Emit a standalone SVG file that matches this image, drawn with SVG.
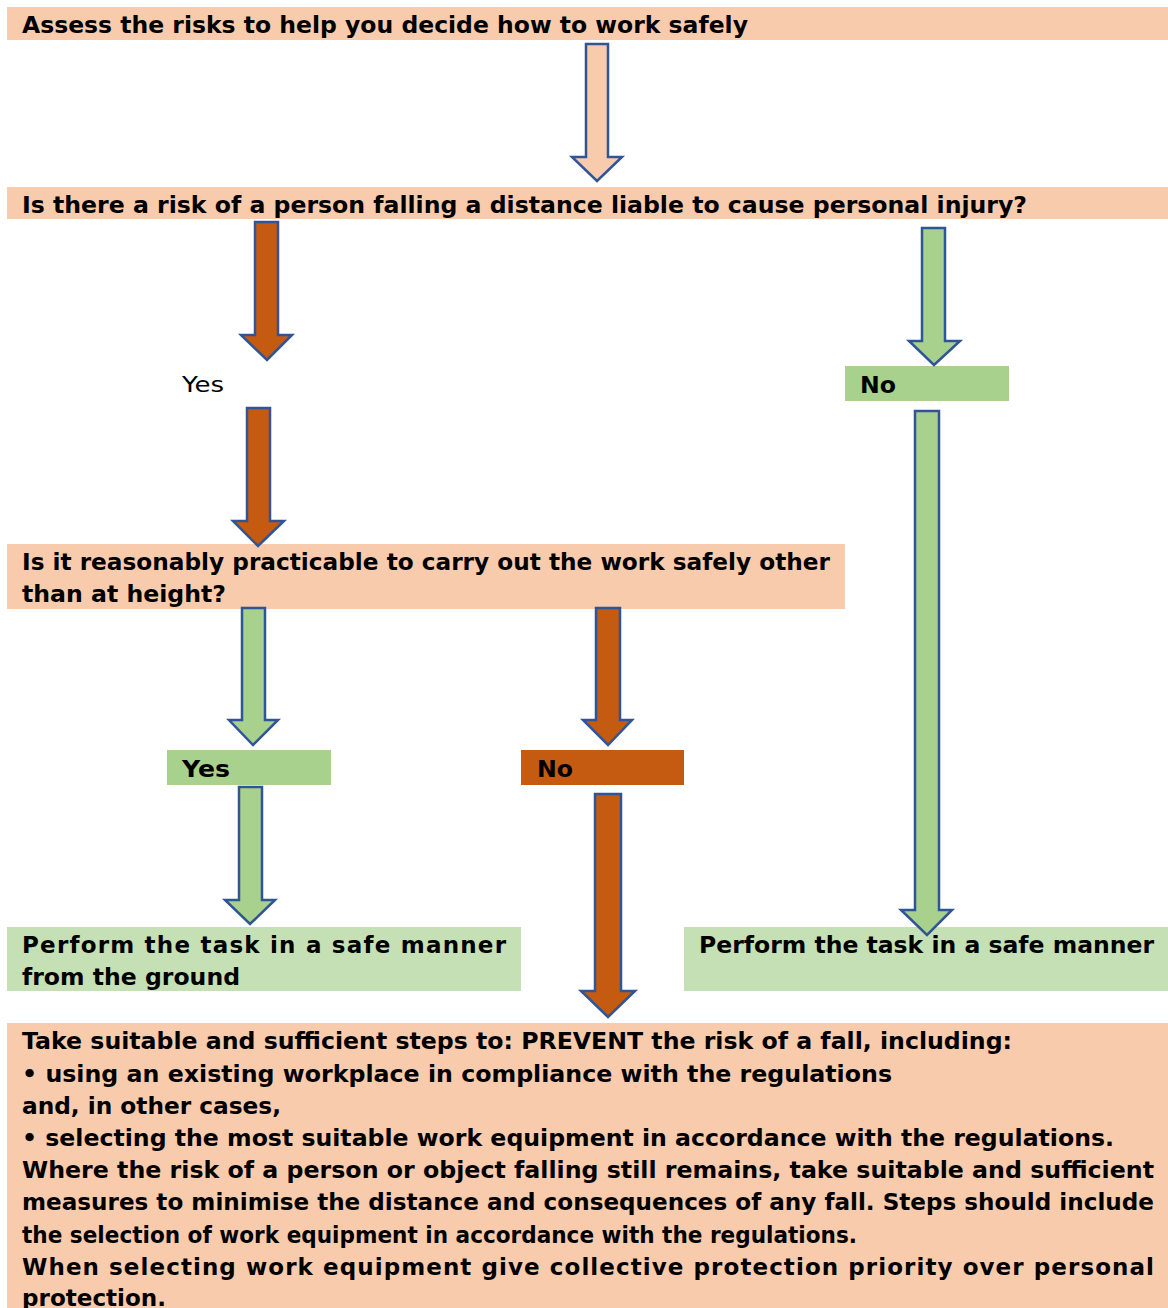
<svg xmlns="http://www.w3.org/2000/svg" width="1168" height="1308" viewBox="0 0 1168 1308">
<style>
.peach{fill:#F8CBAD}
.green{fill:#A9D18E}
.lgreen{fill:#C5E0B4}
.orange{fill:#C55A11}
.t{font-family:"DejaVu Sans","Liberation Sans",sans-serif;font-weight:bold;font-size:23px;fill:#000}
.n{font-family:"DejaVu Sans","Liberation Sans",sans-serif;font-size:22px;fill:#000}
.arr{stroke:#2F5597;stroke-width:2.5;stroke-linejoin:miter}
</style>
<rect width="1168" height="1308" fill="#fff"/>
<g id="n1">
<rect class="peach" x="7" y="7" width="1161" height="33"/>
<text class="t" x="22" y="33" textLength="726" lengthAdjust="spacingAndGlyphs">Assess the risks to help you decide how to work safely</text>
</g>
<g id="n2">
<rect class="peach" x="7" y="187" width="1161" height="32"/>
<text class="t" x="22" y="213" textLength="1005" lengthAdjust="spacingAndGlyphs">Is there a risk of a person falling a distance liable to cause personal injury?</text>
</g>
<g id="yes1">
<text class="n" x="182" y="392" textLength="42" lengthAdjust="spacingAndGlyphs">Yes</text>
</g>
<g id="no1">
<rect class="green" x="845" y="366" width="164" height="35"/>
<text class="t" x="860" y="393" textLength="36" lengthAdjust="spacingAndGlyphs">No</text>
</g>
<g id="n3">
<rect class="peach" x="7" y="544" width="838" height="65"/>
<text class="t" x="22" y="570" textLength="808" lengthAdjust="spacingAndGlyphs">Is it reasonably practicable to carry out the work safely other</text>
<text class="t" x="22" y="602" textLength="204" lengthAdjust="spacingAndGlyphs">than at height?</text>
</g>
<g id="yes2">
<rect class="green" x="167" y="750" width="164" height="35"/>
<text class="t" x="182" y="777" textLength="48" lengthAdjust="spacingAndGlyphs">Yes</text>
</g>
<g id="no2">
<rect class="orange" x="521" y="750" width="163" height="35"/>
<text class="t" x="537" y="777" textLength="36" lengthAdjust="spacingAndGlyphs">No</text>
</g>
<g id="ground">
<rect class="lgreen" x="7" y="927" width="514" height="64"/>
<text class="t" x="22" y="953" textLength="484" lengthAdjust="spacing">Perform the task in a safe manner</text>
<text class="t" x="22" y="985" textLength="218" lengthAdjust="spacingAndGlyphs">from the ground</text>
</g>
<g id="safe">
<rect class="lgreen" x="684" y="927" width="484" height="64"/>
<text class="t" x="699" y="953" textLength="455" lengthAdjust="spacingAndGlyphs">Perform the task in a safe manner</text>
</g>
<g id="prevent">
<rect class="peach" x="7" y="1023" width="1161" height="285"/>
<text class="t" x="22" y="1049" textLength="990" lengthAdjust="spacingAndGlyphs">Take suitable and sufficient steps to: PREVENT the risk of a fall, including:</text>
<text class="t" x="22" y="1082" textLength="870" lengthAdjust="spacingAndGlyphs">• using an existing workplace in compliance with the regulations</text>
<text class="t" x="22" y="1114" textLength="259" lengthAdjust="spacingAndGlyphs">and, in other cases,</text>
<text class="t" x="22" y="1146" textLength="1092" lengthAdjust="spacingAndGlyphs">• selecting the most suitable work equipment in accordance with the regulations.</text>
<text class="t" x="22" y="1178" textLength="1132" lengthAdjust="spacingAndGlyphs">Where the risk of a person or object falling still remains, take suitable and sufficient</text>
<text class="t" x="22" y="1210" textLength="1132" lengthAdjust="spacingAndGlyphs">measures to minimise the distance and consequences of any fall. Steps should include</text>
<text class="t" x="22" y="1243" textLength="835" lengthAdjust="spacingAndGlyphs">the selection of work equipment in accordance with the regulations.</text>
<text class="t" x="22" y="1275" textLength="1132" lengthAdjust="spacing">When selecting work equipment give collective protection priority over personal</text>
<text class="t" x="22" y="1306" textLength="144" lengthAdjust="spacingAndGlyphs">protection.</text>
</g>
<g id="connectors">
<path class="arr peach" d="M586,44 H608 V157 H622 L597,181 L572,157 H586 Z"/>
<path class="arr orange" d="M255,222 H278 V335 H292 L267,360 L241,335 H255 Z"/>
<path class="arr orange" d="M247,408 H270 V521 H284 L258,546 L233,521 H247 Z"/>
<path class="arr green" d="M922,228 H945 V341 H960 L934,365 L909,341 H922 Z"/>
<path class="arr green" d="M915,411 H939 V910 H952 L927,935 L901,910 H915 Z"/>
<path class="arr green" d="M242,608 H265 V720 H278 L253,745 L229,720 H242 Z"/>
<path class="arr orange" d="M596,608 H620 V720 H632 L608,745 L583,720 H596 Z"/>
<path class="arr green" d="M239,787 H262 V900 H275 L250,924 L225,900 H239 Z"/>
<path class="arr orange" d="M595,794 H621 V991 H635 L608,1017 L581,991 H595 Z"/>
</g>
</svg>
